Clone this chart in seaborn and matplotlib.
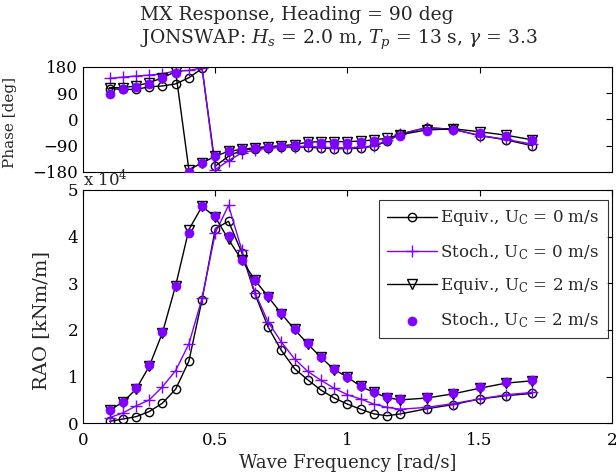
import numpy as np
import pandas as pd
import matplotlib
matplotlib.use("Agg")
import matplotlib.pyplot as plt
import seaborn as sns

# wave frequencies [rad/s]
freq = [0.10, 0.15, 0.20, 0.25, 0.30, 0.35, 0.40, 0.45, 0.50, 0.55, 0.60, 0.65,
        0.70, 0.75, 0.80, 0.85, 0.90, 0.95, 1.00, 1.05, 1.10, 1.15, 1.20,
        1.30, 1.40, 1.50, 1.60, 1.70]

# RAO [kNm/m], in units of 1e4
rao_eq0 = [0.04, 0.09, 0.14, 0.25, 0.43, 0.73, 1.33, 2.65, 4.17, 4.33, 3.66, 2.77,
           2.06, 1.56, 1.17, 0.93, 0.71, 0.54, 0.41, 0.30, 0.20, 0.16, 0.20,
           0.31, 0.40, 0.52, 0.59, 0.64]
rao_st0 = [0.12, 0.22, 0.37, 0.50, 0.78, 1.13, 1.70, 2.68, 4.08, 4.67, 3.72, 2.80,
           2.17, 1.74, 1.38, 1.11, 0.92, 0.75, 0.61, 0.52, 0.41, 0.34, 0.30,
           0.34, 0.42, 0.52, 0.61, 0.66]
rao_eq2 = [0.28, 0.45, 0.73, 1.22, 1.94, 2.95, 4.15, 4.65, 4.42, 3.94, 3.50, 3.07,
           2.71, 2.35, 2.01, 1.70, 1.41, 1.15, 0.99, 0.79, 0.66, 0.55, 0.50,
           0.54, 0.63, 0.75, 0.86, 0.91]
rao_st2 = [0.28, 0.45, 0.75, 1.24, 1.95, 2.95, 4.08, 4.65, 4.44, 4.01, 3.50, 3.07,
           2.72, 2.37, 2.03, 1.72, 1.43, 1.17, 1.00, 0.80, 0.67, 0.57, 0.52,
           0.56, 0.65, 0.77, 0.88, 0.93]

# phase [deg]
ph_eq0 = [106, 103, 103, 112, 115, 122, 143, 175, -160, -126, -105, -100,
          -97, -95, -95, -95, -98, -100, -100, -98, -92, -75, -50,
          -28, -34, -55, -70, -90]
ph_st0 = [141, 145, 149, 152, 157, 166, 168, 177, -172, -141, -115, -105,
          -98, -95, -93, -92, -95, -97, -97, -95, -90, -72, -50,
          -28, -34, -55, -68, -85]
ph_eq2 = [109, 109, 115, 126, 143, 164, -172, -149, -126, -109, -103, -97,
          -93, -90, -86, -78, -76, -76, -76, -74, -70, -64, -52,
          -36, -32, -42, -54, -70]
ph_st2 = [89, 103, 112, 122, 141, 160, -180, -149, -124, -109, -103, -97,
          -95, -92, -88, -82, -80, -80, -80, -78, -74, -69, -57,
          -40, -36, -46, -57, -72]

labels = ["Equiv., U$_\\mathregular{C}$ = 0 m/s",
          "Stoch., U$_\\mathregular{C}$ = 0 m/s",
          "Equiv., U$_\\mathregular{C}$ = 2 m/s",
          "Stoch., U$_\\mathregular{C}$ = 2 m/s"]

purple = "#7F00FF"

sns.set_style("white")
plt.rcParams["font.family"] = ["DejaVu Serif"]
plt.rcParams["mathtext.fontset"] = "dejavuserif"
plt.rcParams["xtick.direction"] = "in"
plt.rcParams["ytick.direction"] = "in"

fig = plt.figure(figsize=(6.16, 4.75), dpi=100)
ax1 = fig.add_axes([0.135, 0.638, 0.858, 0.221])
ax2 = fig.add_axes([0.135, 0.109, 0.858, 0.491])

df = pd.DataFrame({"freq": freq,
                   "rao_eq0": rao_eq0, "rao_st0": rao_st0,
                   "rao_eq2": rao_eq2, "rao_st2": rao_st2,
                   "ph_eq0": ph_eq0, "ph_st0": ph_st0,
                   "ph_eq2": ph_eq2, "ph_st2": ph_st2})


def draw(ax, key):
    sns.lineplot(data=df, x="freq", y=key + "_eq0", ax=ax, color="black", lw=1,
                 marker="o", markersize=6, markerfacecolor="none",
                 markeredgecolor="black", markeredgewidth=1, label=labels[0])
    sns.lineplot(data=df, x="freq", y=key + "_st0", ax=ax, color=purple, lw=1,
                 marker="+", markersize=9, markeredgecolor=purple,
                 markeredgewidth=1, label=labels[1])
    sns.lineplot(data=df, x="freq", y=key + "_eq2", ax=ax, color="black", lw=1,
                 marker="v", markersize=7, markerfacecolor="none",
                 markeredgecolor="black", markeredgewidth=1, label=labels[2])
    sns.scatterplot(data=df, x="freq", y=key + "_st2", ax=ax, color=purple,
                    s=42, edgecolor=purple, linewidth=0.5, label=labels[3], zorder=5)


draw(ax1, "ph")
draw(ax2, "rao")

for ax in (ax1, ax2):
    ax.set_xlim(0, 2)
    ax.set_xticks([0, 0.5, 1, 1.5, 2])
    ax.tick_params(top=True, right=True, length=4, width=0.8, labelsize=12,
                   colors="black")
    ax.tick_params(axis="x", pad=6)
    for s in ax.spines.values():
        s.set_color("black")
        s.set_linewidth(0.8)

ax1.set_ylim(-180, 180)
ax1.set_yticks([-180, -90, 0, 90, 180])
ax1.set_xticklabels([])
ax1.set_xlabel("")
ax1.set_ylabel("Phase [deg]", fontsize=11)
ax1.yaxis.set_label_coords(-0.125, 0.47)
ax1.get_legend().remove()

ax2.set_ylim(0, 5)
ax2.set_yticks([0, 1, 2, 3, 4, 5])
ax2.set_xticklabels(["0", "0.5", "1", "1.5", "2"])
ax2.set_xlabel("Wave Frequency [rad/s]", fontsize=13, labelpad=4)
ax2.set_ylabel("RAO [kNm/m]", fontsize=14)
ax2.yaxis.set_label_coords(-0.062, 0.44)
ax2.text(0.0, 1.0, "x 10$^\\mathregular{4}$", transform=ax2.transAxes,
         fontsize=12, ha="left", va="bottom")

leg = ax2.legend(loc="upper right", bbox_to_anchor=(1 - 4 / 529, 1 - 10 / 233),
                 borderaxespad=0, fontsize=12, frameon=True, fancybox=False,
                 edgecolor="black", handlelength=3.0, handletextpad=0.2,
                 labelspacing=0.85, borderpad=0.5)
leg.get_frame().set_linewidth(0.8)

fig.text(140 / 616, 1 - 15 / 475, "MX Response, Heading = 90 deg",
         fontsize=13.5, ha="left", va="center")
fig.text(140 / 616, 1 - 40 / 475,
         "JONSWAP: $H_s$ = 2.0 m, $T_p$ = 13 s, $\\gamma$ = 3.3",
         fontsize=13.5, ha="left", va="center")

fig.savefig("out.png", dpi=100)
